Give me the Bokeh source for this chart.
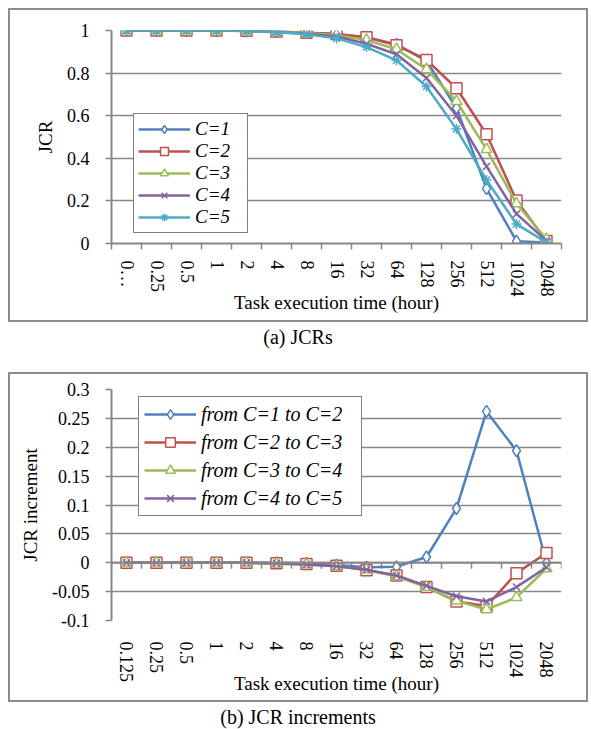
from bokeh.plotting import figure
from bokeh.models import FixedTicker, Span, Legend, Div
from bokeh.layouts import column
from bokeh.embed import file_html
from bokeh.resources import INLINE

hours = ["0.125", "0.25", "0.5", "1", "2", "4", "8", "16", "32", "64", "128", "256", "512", "1024", "2048"]

jcr_c1 = [1, 1, 1, 1, 0.999, 0.995, 0.990, 0.983, 0.968, 0.935, 0.857, 0.636, 0.258, 0.011, 0.005]
jcr_c2 = [1, 1, 1, 1, 0.999, 0.995, 0.990, 0.984, 0.968, 0.931, 0.862, 0.729, 0.513, 0.202, 0.012]
jcr_c3 = [1, 1, 1, 1, 0.999, 0.994, 0.988, 0.978, 0.955, 0.912, 0.817, 0.668, 0.442, 0.187, 0.020]
jcr_c4 = [1, 1, 1, 1, 0.998, 0.993, 0.985, 0.972, 0.938, 0.888, 0.777, 0.600, 0.362, 0.139, 0.012]
jcr_c5 = [1, 1, 1, 1, 0.998, 0.992, 0.982, 0.963, 0.922, 0.860, 0.737, 0.537, 0.298, 0.091, 0.005]

inc_12 = [0, 0, 0, 0, 0, 0, -0.001, -0.004, -0.008, -0.007, 0.010, 0.094, 0.262, 0.194, 0.000]
inc_23 = [0, 0, 0, 0, 0, -0.001, -0.002, -0.005, -0.013, -0.022, -0.042, -0.067, -0.075, -0.018, 0.017]
inc_34 = [0, 0, 0, 0, 0, -0.002, -0.003, -0.006, -0.012, -0.024, -0.042, -0.066, -0.081, -0.060, -0.010]
inc_45 = [0, 0, 0, 0, 0, -0.001, -0.003, -0.006, -0.012, -0.022, -0.040, -0.058, -0.067, -0.042, -0.008]

jcr_labels = ["C=1", "C=2", "C=3", "C=4", "C=5"]
inc_labels = ["from C=1 to C=2", "from C=2 to C=3", "from C=3 to C=4", "from C=4 to C=5"]

colors = ["#4F81BD", "#C0504D", "#9BBB59", "#8064A2", "#4BACC6"]
markers = ["diamond", "square", "triangle", "x", "asterisk"]
msizes = [12, 11, 11, 10, 10]

GRAY = "#878787"
FONT = "'Liberation Serif', 'Times New Roman', 'DejaVu Serif', serif"
n = len(hours)
centers = [i + 0.5 for i in range(n)]
bounds = list(range(n + 1))


def style_xaxis(p, overrides):
    ax = p.xaxis[0]
    ax.ticker = FixedTicker(ticks=centers, minor_ticks=bounds)
    ax.major_label_overrides = overrides
    ax.major_label_orientation = "vertical"
    ax.major_tick_line_color = None
    ax.major_tick_out = 6
    ax.major_tick_in = 0
    ax.minor_tick_out = 6
    ax.minor_tick_in = 0
    ax.minor_tick_line_color = GRAY
    ax.minor_tick_line_width = 1.5
    ax.axis_line_color = GRAY
    ax.axis_line_width = 2
    ax.major_label_text_font = FONT
    ax.major_label_text_font_size = "18px"
    ax.major_label_text_color = "black"
    ax.axis_label_text_font = FONT
    ax.axis_label_text_font_size = "19px"
    ax.axis_label_text_font_style = "normal"
    ax.axis_label_text_color = "black"


def style_yaxis(p, ticks):
    ax = p.yaxis[0]
    ax.ticker = FixedTicker(ticks=ticks)
    ax.minor_tick_line_color = None
    ax.major_tick_out = 6
    ax.major_tick_in = 0
    ax.major_tick_line_color = GRAY
    ax.major_tick_line_width = 1.5
    ax.axis_line_color = GRAY
    ax.axis_line_width = 2
    ax.major_label_text_font = FONT
    ax.major_label_text_font_size = "18px"
    ax.major_label_text_color = "black"
    ax.major_label_standoff = 16
    ax.axis_label_text_font = FONT
    ax.axis_label_text_font_size = "19px"
    ax.axis_label_text_font_style = "normal"
    ax.axis_label_text_color = "black"
    p.ygrid.ticker = FixedTicker(ticks=ticks)
    p.ygrid.grid_line_color = GRAY
    p.ygrid.grid_line_width = 1.5
    p.xgrid.grid_line_color = None


def add_series(p, ys, labels, legend_loc, glyph_h, spacing, padding, font_size, label_w):
    items = []
    for k, y in enumerate(ys):
        r1 = p.line(centers, y, line_color=colors[k], line_width=2.5)
        r2 = p.scatter(centers, y, marker=markers[k], size=msizes[k], line_color=colors[k],
                       fill_color="white", line_width=1.5)
        items.append((labels[k], [r1, r2]))
    leg = Legend(items=items, location=legend_loc)
    leg.label_text_font = FONT
    leg.label_text_font_style = "italic"
    leg.label_text_font_size = font_size
    leg.label_text_color = "black"
    leg.glyph_width = 52
    leg.glyph_height = glyph_h
    leg.label_height = glyph_h
    leg.label_width = label_w
    leg.spacing = spacing
    leg.padding = padding
    leg.margin = 0
    leg.label_standoff = 5
    leg.border_line_color = "black"
    leg.border_line_width = 1.5
    leg.background_fill_alpha = 1
    p.add_layout(leg, "center")


# ---------- chart (a) ----------
pa = figure(width=580, height=314, output_backend="svg", toolbar_location=None,
            x_range=(0, n), y_range=(0, 1),
            min_border_left=98, min_border_right=29, min_border_top=20, min_border_bottom=81,
            x_axis_label="Task execution time (hour)", y_axis_label="JCR")
pa.outline_line_color = None
style_yaxis(pa, [0, 0.2, 0.4, 0.6, 0.8, 1.0])
pa.yaxis[0].major_label_overrides = {0: "0", 0.2: "0.2", 0.4: "0.4", 0.6: "0.6", 0.8: "0.8", 1.0: "1"}
ov_a = {c: h for c, h in zip(centers, hours)}
ov_a[centers[0]] = "0\u2026"
style_xaxis(pa, ov_a)
pa.xaxis[0].major_label_standoff = 11
pa.xaxis[0].axis_label_standoff = -8
pa.yaxis[0].axis_label_standoff = 8
add_series(pa, [jcr_c1, jcr_c2, jcr_c3, jcr_c4, jcr_c5], jcr_labels, (22, 10), 20, 0, 4, "19px", 48)
pa.styles = {"border": "2px solid #8c8c8c"}

# ---------- chart (b) ----------
pb = figure(width=580, height=330, output_backend="svg", toolbar_location=None,
            x_range=(0, n), y_range=(-0.1, 0.3),
            min_border_left=101, min_border_right=13, min_border_top=15, min_border_bottom=84,
            x_axis_label="Task execution time (hour)", y_axis_label="JCR increment")
pb.outline_line_color = None
yt_b = [-0.1, -0.05, 0, 0.05, 0.1, 0.15, 0.2, 0.25, 0.3]
style_yaxis(pb, yt_b)
pb.yaxis[0].major_label_overrides = {-0.1: "-0.1", -0.05: "-0.05", 0: "0", 0.05: "0.05", 0.1: "0.1",
                                     0.15: "0.15", 0.2: "0.2", 0.25: "0.25", 0.3: "0.3"}
style_xaxis(pb, {c: h for c, h in zip(centers, hours)})
pb.xaxis[0].axis_line_color = None
pb.xaxis[0].minor_tick_line_color = None
pb.xaxis[0].major_label_standoff = 15
pb.xaxis[0].axis_label_standoff = -12
pb.yaxis[0].axis_label_standoff = 8
pb.add_layout(Span(location=0, dimension="width", line_color=GRAY, line_width=2))
pb.segment(x0=bounds, y0=[0] * len(bounds), x1=bounds, y1=[-0.0106] * len(bounds),
           line_color=GRAY, line_width=1.5)
add_series(pb, [inc_12, inc_23, inc_34, inc_45], inc_labels, (27, 104), 24, 4, 5, "20px", 155)
pb.styles = {"border": "2px solid #8c8c8c"}

CAP = ('<div style="width:580px;text-align:center;font-family:\'Liberation Serif\',\'Times New Roman\','
       '\'DejaVu Serif\',serif;font-size:20px;line-height:20px;padding-top:5px;color:black">%s</div>')
cap_a = Div(text=CAP % "(a) JCRs", width=580, height=50, margin=0)
cap_b = Div(text=CAP % "(b) JCR increments", width=580, height=19, margin=0)

layout = column(pa, cap_a, pb, cap_b, spacing=0, styles={"margin-left": "8px", "margin-top": "8px"})
open("out.html", "w").write(file_html(layout, INLINE))
